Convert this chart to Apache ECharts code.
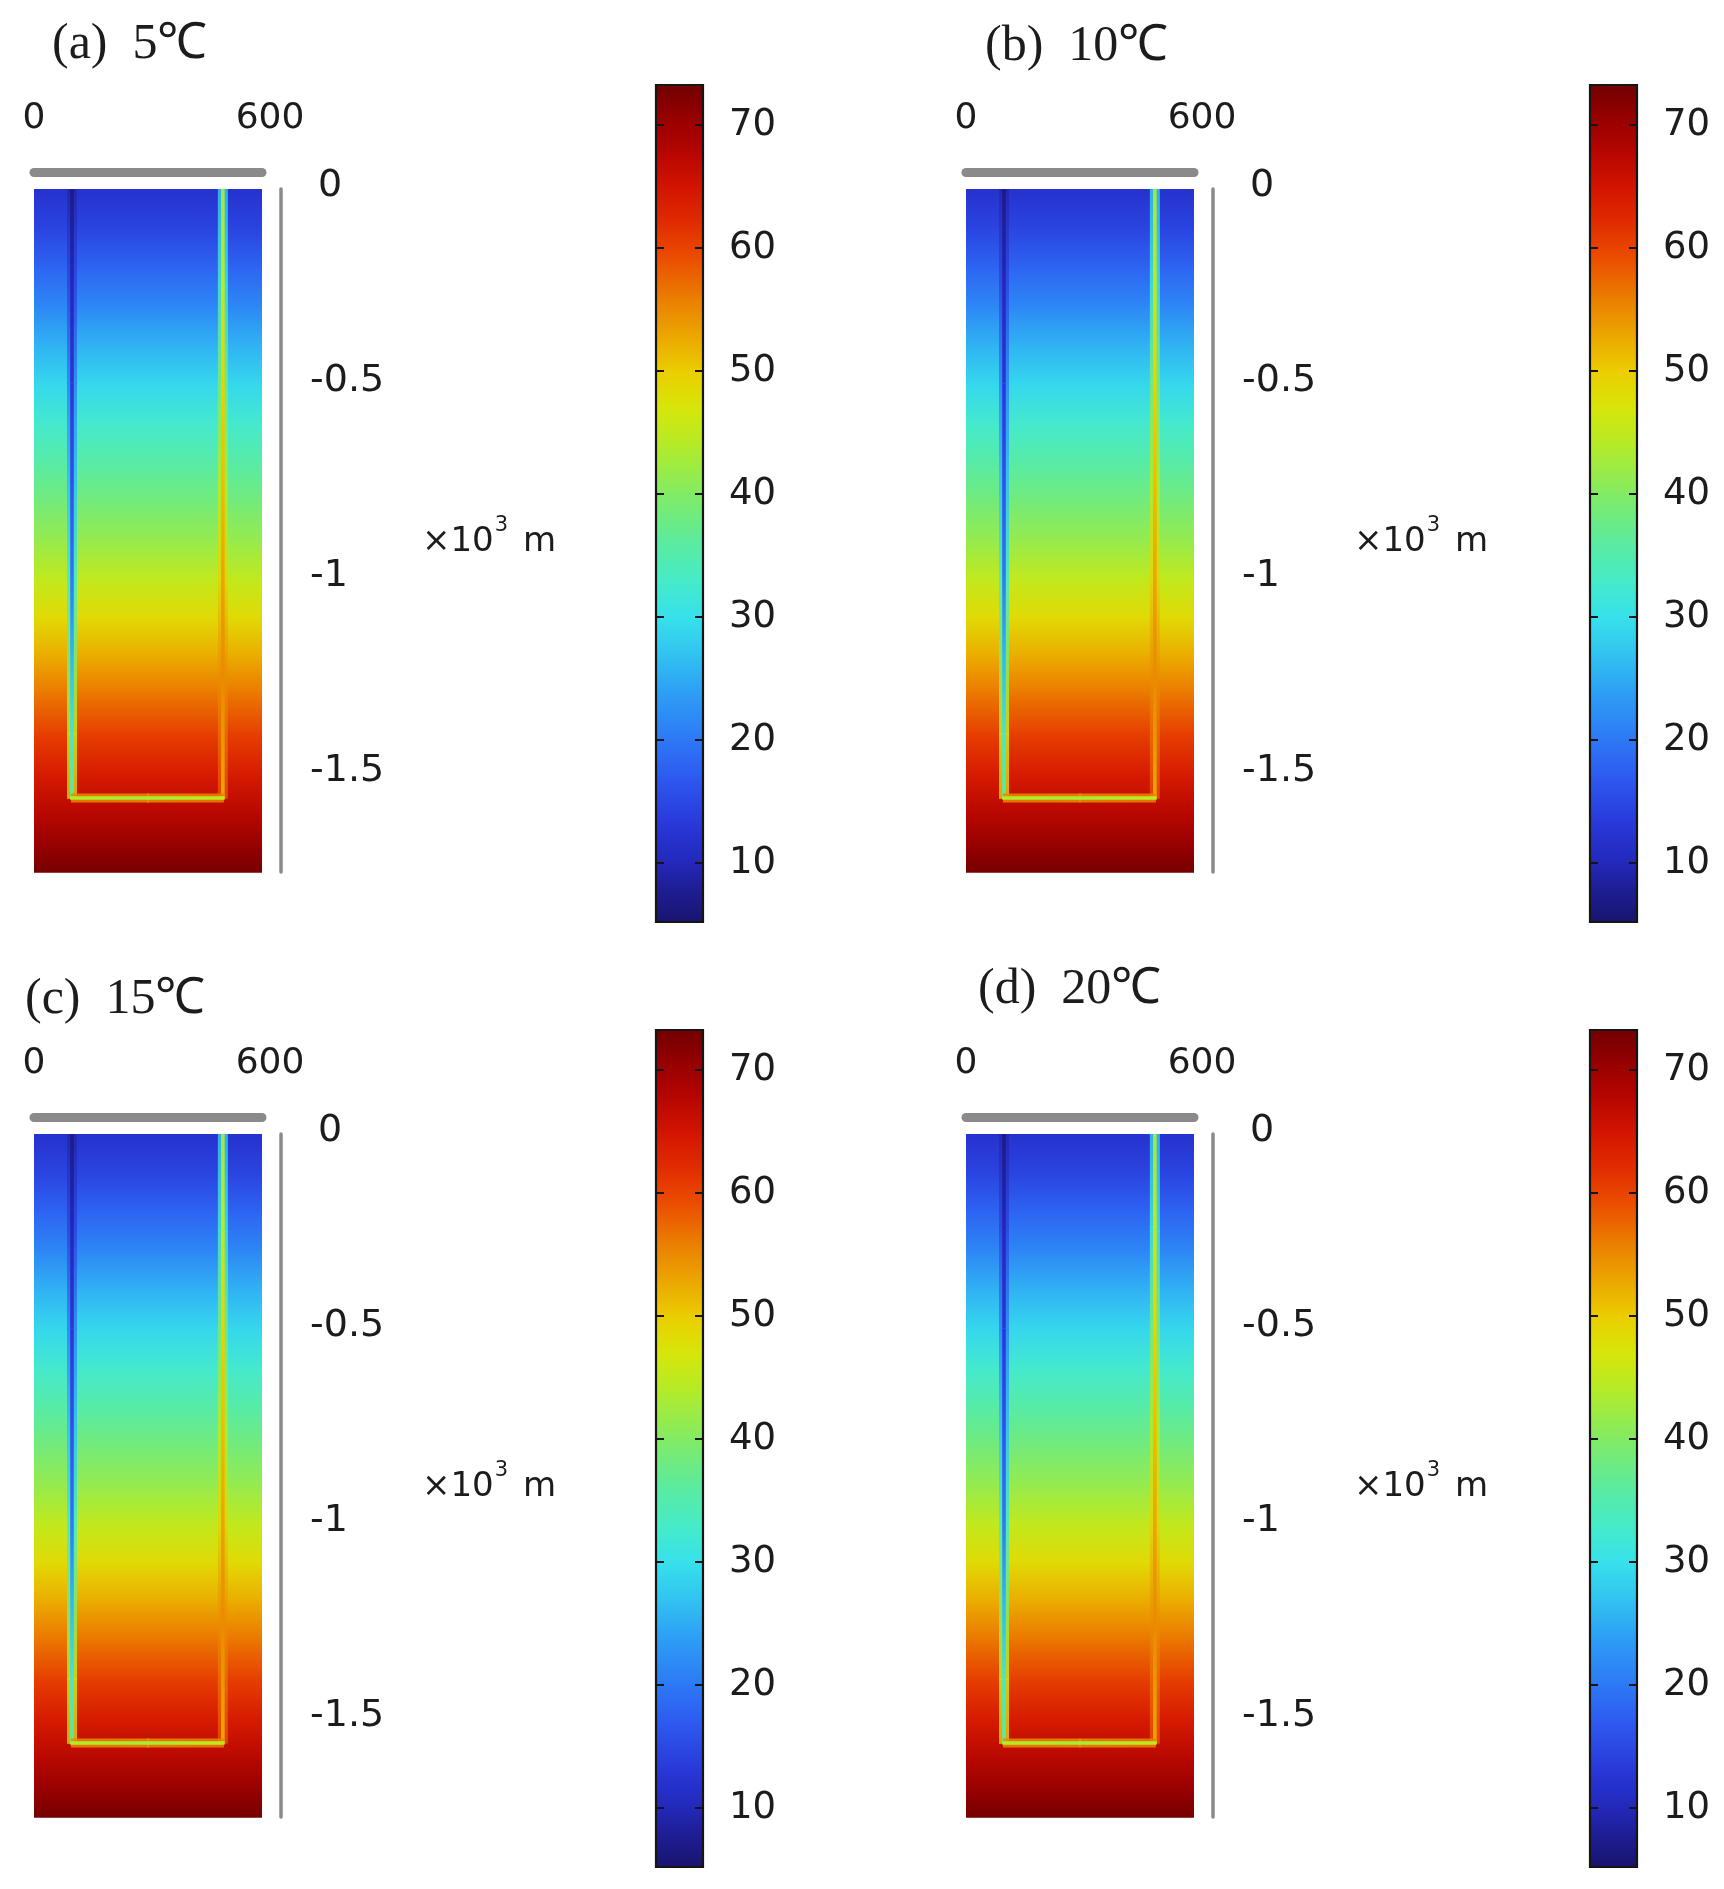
<!DOCTYPE html>
<html><head><meta charset="utf-8">
<script src="https://cdn.jsdelivr.net/npm/echarts@6/dist/echarts.min.js"></script>
<style>html,body{margin:0;padding:0;background:#fff}#c{width:1724px;height:1889px}</style>
</head><body><div id="c"></div>
<script>
// ---------- data ----------
const panelTitles = ['(a)  5\u2103', '(b)  10\u2103', '(c)  15\u2103', '(d)  20\u2103'];
const xTickValues = [0, 600];
const depthTickValues = [0, -0.5, -1, -1.5];
const colorbarTicks = [10, 20, 30, 40, 50, 60, 70];
const colorbarRange = [5.2, 73.25];
const domainWidth = 600;      // m
const domainDepth = 1.755;    // km
// rock temperature (°C) versus depth (km)
const depthKm  = [0, 0.1, 0.2, 0.3, 0.4, 0.5, 0.6, 0.7, 0.8, 0.9, 1.0, 1.1, 1.2, 1.3, 1.4, 1.5, 1.6, 1.7, 1.755];
const rockTemp = [12, 14.5, 18, 21.5, 25.5, 29, 32.5, 35.5, 38.5, 41.5, 45, 48.5, 52.5, 56.5, 60.5, 64, 67.5, 71, 73];
// well geometry
const injectionX = 100, productionX = 497, wellBottom = 1.565;
// injection (left) pipe temperature
const leftPipeDepth = [0, 0.25, 0.5, 0.75, 1.0, 1.2, 1.4, 1.565];
const leftPipeTemp  = [7, 10, 13, 16, 20, 26, 32, 36];
// production (right) pipe temperature
const rightPipeDepth = [0, 0.25, 0.5, 0.75, 1.0, 1.25, 1.565];
const rightPipeTemp  = [42, 45, 49, 51, 53, 55, 53];
// horizontal section temperature
const bottomPipeX    = [100, 300, 497];
const bottomPipeTemp = [44, 43, 45];

// ---------- colour map (style) ----------
const cmap = [
  [5.2,[25,20,110]],[8,[30,30,150]],[10,[35,40,185]],[13,[40,55,215]],[17,[45,90,240]],
  [20,[45,120,245]],[24,[45,160,245]],[27,[50,195,240]],[30,[55,225,235]],[33,[70,235,200]],
  [36,[90,235,160]],[40,[130,235,100]],[44,[180,235,40]],[47,[215,230,10]],[50,[235,205,0]],
  [53,[235,165,0]],[56,[235,125,0]],[59,[235,80,0]],[62,[225,45,0]],[65,[210,20,0]],
  [68,[180,5,0]],[71,[145,0,0]],[73.25,[115,0,0]]
];
function colorOf(v){
  if (v <= cmap[0][0]) return 'rgb(' + cmap[0][1].join(',') + ')';
  for (let i = 0; i < cmap.length - 1; i++) {
    const a = cmap[i], b = cmap[i+1];
    if (v <= b[0]) {
      const f = (v - a[0]) / (b[0] - a[0]);
      const c = a[1].map((x, k) => Math.round(x + (b[1][k] - x) * f));
      return 'rgb(' + c.join(',') + ')';
    }
  }
  return 'rgb(' + cmap[cmap.length-1][1].join(',') + ')';
}
function rockAt(d){
  for (let i = 0; i < depthKm.length - 1; i++) {
    if (d <= depthKm[i+1]) {
      const f = (d - depthKm[i]) / (depthKm[i+1] - depthKm[i]);
      return rockTemp[i] + (rockTemp[i+1] - rockTemp[i]) * f;
    }
  }
  return rockTemp[rockTemp.length-1];
}
function grad(vert, t0, t1){
  return new echarts.graphic.LinearGradient(0, 0, vert ? 0 : 1, vert ? 1 : 0,
    [{offset:0, color:colorOf(t0)}, {offset:1, color:colorOf(t1)}]);
}

// ---------- series items built from the arrays ----------
const bgItems = [];
for (let i = 0; i < depthKm.length - 1; i++) bgItems.push([depthKm[i], depthKm[i+1], rockTemp[i], rockTemp[i+1]]);
const pipeItems = [];
function addVertical(x, ds, ts){
  for (let i = 0; i < ds.length - 1; i++) {
    pipeItems.push([0, x, ds[i], ds[i+1], ts[i], ts[i+1], (ts[i] + rockAt(ds[i])) / 2, (ts[i+1] + rockAt(ds[i+1])) / 2]);
  }
}
addVertical(injectionX, leftPipeDepth, leftPipeTemp);
addVertical(productionX, rightPipeDepth, rightPipeTemp);
for (let i = 0; i < bottomPipeX.length - 1; i++) {
  const r = rockAt(wellBottom);
  pipeItems.push([1, bottomPipeX[i], bottomPipeX[i+1], wellBottom, bottomPipeTemp[i], bottomPipeTemp[i+1], (bottomPipeTemp[i] + r) / 2, (bottomPipeTemp[i+1] + r) / 2]);
}
const cbItems = [];
for (let i = 0; i < cmap.length - 1; i++) cbItems.push([cmap[i][0], cmap[i+1][0]]);

function bgRender(params, api){
  const a = api.coord([0, -api.value(0)]), b = api.coord([domainWidth, -api.value(1)]);
  return {type:'rect', shape:{x:a[0], y:a[1], width:b[0]-a[0], height:b[1]-a[1]+0.8},
          style:{fill:grad(true, api.value(2), api.value(3))}};
}
function pipeRender(params, api){
  const kind = api.value(0);
  if (kind === 0) {
    const x = api.value(1);
    const a = api.coord([x, -api.value(2)]), b = api.coord([x, -api.value(3)]);
    const h = b[1] - a[1] + 0.8;
    return {type:'group', children:[
      {type:'rect', shape:{x:a[0]-5, y:a[1], width:10, height:h}, style:{fill:grad(true, api.value(6), api.value(7)), opacity:0.85}},
      {type:'rect', shape:{x:a[0]-1.8, y:a[1], width:3.6, height:h}, style:{fill:grad(true, api.value(4), api.value(5))}}
    ]};
  }
  const a = api.coord([api.value(1), -api.value(3)]), b = api.coord([api.value(2), -api.value(3)]);
  const w = b[0] - a[0];
  return {type:'group', children:[
    {type:'rect', shape:{x:a[0]-1, y:a[1]-4.5, width:w+2, height:9}, style:{fill:grad(false, api.value(6), api.value(7)), opacity:0.85}},
    {type:'rect', shape:{x:a[0]-1.8, y:a[1]-1.8, width:w+3.6, height:3.6}, style:{fill:grad(false, api.value(4), api.value(5))}}
  ]};
}
function cbRender(params, api){
  const v0 = api.value(0), v1 = api.value(1);
  const a = api.coord([0, v1]), b = api.coord([1, v0]);
  return {type:'rect', shape:{x:a[0], y:a[1], width:b[0]-a[0], height:b[1]-a[1]+0.8},
          style:{fill:new echarts.graphic.LinearGradient(0,0,0,1,[{offset:0,color:colorOf(v1)},{offset:1,color:colorOf(v0)}])}};
}
function cbBorderRender(params, api){
  const a = api.coord([0, colorbarRange[1]]), b = api.coord([1, colorbarRange[0]]);
  return {type:'rect', shape:{x:a[0], y:a[1], width:b[0]-a[0], height:b[1]-a[1]},
          style:{fill:'none', stroke:'#151515', lineWidth:2.2}};
}

// ---------- layout ----------
const FONT = 'DejaVu Sans';
const TXT = '#1c1c1c';
const panels = [
  {gx:34,  gy:189,  cbx:656,  cby:85,   tx:52,  ty:20},
  {gx:966, gy:189,  cbx:1590, cby:85,   tx:985, ty:22},
  {gx:34,  gy:1134, cbx:656,  cby:1030, tx:25,  ty:975},
  {gx:966, gy:1134, cbx:1590, cby:1030, tx:978, ty:965}
];
const grid = [], xAxis = [], yAxis = [], series = [], title = [];
panels.forEach((p, i) => {
  const gMain = grid.length;
  grid.push({left:p.gx, top:p.gy, width:228, height:683, outerBoundsMode:'none', containLabel:false});
  const gCb = grid.length;
  grid.push({left:p.cbx, top:p.cby, width:47, height:837, outerBoundsMode:'none', containLabel:false});
  title.push({text:panelTitles[i], left:p.tx, top:p.ty, padding:0,
    textStyle:{fontFamily:'Liberation Serif', fontSize:50, fontWeight:'normal', color:TXT}});
  const xMain = xAxis.length;
  xAxis.push({gridIndex:gMain, type:'value', position:'top', min:0, max:domainWidth, offset:17,
    axisLine:{show:true, onZero:false, lineStyle:{color:'#8a8a8a', width:9}},
    axisTick:{show:false}, splitLine:{show:false},
    axisLabel:{customValues:xTickValues, showMinLabel:true, showMaxLabel:true, margin:35,
      fontFamily:FONT, fontSize:36, color:TXT,
      formatter: v => v === xTickValues[1] ? '{r|' + v + '}' : '{n|' + v + '}',
      rich:{r:{padding:[0,0,0,16], fontFamily:FONT, fontSize:36, color:TXT}, n:{fontFamily:FONT, fontSize:36, color:TXT}}}});
  const xCb = xAxis.length;
  xAxis.push({gridIndex:gCb, type:'value', min:0, max:1, show:false});
  const yMain = yAxis.length;
  yAxis.push({gridIndex:gMain, type:'value', position:'right', min:-domainDepth, max:0, offset:19,
    axisLine:{show:true, onZero:false, lineStyle:{color:'#8a8a8a', width:3.5}},
    axisTick:{show:false}, splitLine:{show:false},
    axisLabel:{customValues:depthTickValues, showMinLabel:true, showMaxLabel:true, margin:29,
      fontFamily:FONT, fontSize:38, color:TXT,
      formatter: v => v === 0 ? '{z|0}' : '{n|' + v + '}',
      rich:{z:{padding:[0,0,6,8], fontFamily:FONT, fontSize:38, color:TXT},
            n:{padding:[0,0,4,0], fontFamily:FONT, fontSize:38, color:TXT}}},
    name:'{b|\u00d710}{s|3}{b| m}', nameLocation:'middle', nameRotate:0, nameGap:141,
    nameTextStyle:{fontFamily:FONT, fontSize:34, color:TXT, padding:[14,0,0,0],
      rich:{b:{fontFamily:FONT, fontSize:34, color:TXT, lineHeight:44, verticalAlign:'bottom'},
            s:{fontFamily:FONT, fontSize:21, color:TXT, lineHeight:18, verticalAlign:'top', padding:[0,4,0,1]}}}});
  const yCbL = yAxis.length;
  yAxis.push({gridIndex:gCb, type:'value', position:'left', min:colorbarRange[0], max:colorbarRange[1], z:10,
    axisLine:{show:false, onZero:false}, splitLine:{show:false}, axisLabel:{show:false},
    axisTick:{show:true, inside:true, length:8, customValues:colorbarTicks, lineStyle:{color:'#151515', width:2}}});
  yAxis.push({gridIndex:gCb, type:'value', position:'right', min:colorbarRange[0], max:colorbarRange[1], z:10,
    axisLine:{show:false, onZero:false}, splitLine:{show:false},
    axisTick:{show:true, inside:true, length:8, customValues:colorbarTicks, lineStyle:{color:'#151515', width:2}},
    axisLabel:{show:true, customValues:colorbarTicks, margin:26, fontFamily:FONT, fontSize:37, color:TXT}});
  series.push({type:'custom', xAxisIndex:xMain, yAxisIndex:yMain, data:bgItems, renderItem:bgRender, silent:true, z:1});
  series.push({type:'custom', xAxisIndex:xMain, yAxisIndex:yMain, data:pipeItems, renderItem:pipeRender, silent:true, z:2});
  series.push({type:'custom', xAxisIndex:xCb, yAxisIndex:yCbL, data:cbItems, renderItem:cbRender, silent:true, z:1});
  series.push({type:'custom', xAxisIndex:xCb, yAxisIndex:yCbL, data:[[0, 0]], renderItem:cbBorderRender, silent:true, z:5});
});

const chart = echarts.init(document.getElementById('c'), null, {renderer:'canvas'});
chart.setOption({animation:false, backgroundColor:'#fff', title, grid, xAxis, yAxis, series});
</script></body></html>
